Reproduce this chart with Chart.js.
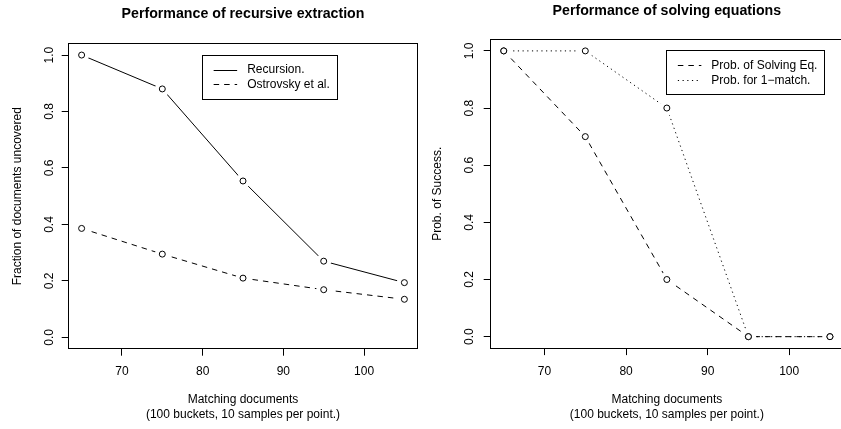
<!DOCTYPE html>
<html><head><meta charset="utf-8">
<script src="https://cdn.jsdelivr.net/npm/chart.js@4.4.1/dist/chart.umd.min.js"></script>
<style>
html,body{margin:0;padding:0;background:#fff;overflow:hidden;width:841px;height:429px;position:relative}
#p1{position:absolute;left:0;top:0}
#p2{position:absolute;left:420px;top:0}
</style></head><body>
<canvas id="p1" width="420" height="429"></canvas>
<canvas id="p2" width="430" height="429"></canvas>
<script>
// ---- data ----
const matching = [65, 75, 85, 95, 105];
const recursion = [1.0, 0.88, 0.554, 0.270, 0.194];
const ostrovsky = [0.386, 0.295, 0.210, 0.169, 0.135];
const solvingEq = [1.0, 0.7, 0.2, 0.0, 0.0];
const oneMatch = [1.0, 1.0, 0.8, 0.0, 0.0];
const xTicks = [70, 80, 90, 100];
const yTicks = [0.0, 0.2, 0.4, 0.6, 0.8, 1.0];
const xRange = [63.4, 106.6];
const yRange = [-0.04, 1.04];
const xTitle = ['Matching documents', '(100 buckets, 10 samples per point.)'];

const FONT = '"Liberation Sans", Arial, Helvetica, sans-serif';
Chart.defaults.font.family = FONT;
Chart.defaults.color = '#000';

function al(p){ return Math.round(p - 0.5) + 0.5; }

const rFrame = {
  id: 'rFrame',
  afterDatasetsDraw(chart) {
    const {ctx, chartArea: a} = chart;
    ctx.save();
    ctx.strokeStyle = '#000'; ctx.lineWidth = 1; ctx.setLineDash([]);
    const l = al(a.left), t = al(a.top), r = al(a.right), b = al(a.bottom);
    ctx.strokeRect(l, t, r - l, b - t);
    ctx.restore();
  }
};

const rLegend = {
  id: 'rLegend',
  afterDraw(chart, args, opts) {
    const {ctx} = chart;
    const xs = chart.scales.x, ys = chart.scales.y;
    const left = xs.getPixelForValue(opts.at[0]);
    const top = ys.getPixelForValue(opts.at[1]);
    ctx.save();
    ctx.font = '12px ' + FONT;
    const items = chart.data.datasets.filter(d => d.inLegend);
    const tw = Math.max(...items.map(d => ctx.measureText(d.label).width));
    const w = 44.5 + tw + 7.5, h = 44;
    const l = al(left), t = al(top), r = al(left + w), b = al(top + h);
    ctx.fillStyle = '#fff';
    ctx.fillRect(l, t, r - l, b - t);
    ctx.strokeStyle = '#000'; ctx.lineWidth = 1;
    ctx.strokeRect(l, t, r - l, b - t);
    items.forEach((d, i) => {
      const y = top + 15 + i * 14.8;
      ctx.setLineDash(d.borderDash || []);
      ctx.beginPath();
      ctx.moveTo(left + 11, al(y)); ctx.lineTo(left + 34.5, al(y));
      ctx.stroke();
      ctx.setLineDash([]);
      ctx.fillStyle = '#000';
      ctx.textBaseline = 'middle'; ctx.textAlign = 'left';
      ctx.fillText(d.label, left + 44.5, y);
    });
    ctx.restore();
  }
};

// R type="b": line, white gap around each point, open circle
function series(label, values, dash) {
  const pts = matching.map((x, i) => ({x, y: values[i]}));
  return [
    { label, inLegend: true, data: pts, order: 3,
      borderColor: '#000', borderWidth: 1, borderDash: dash,
      pointRadius: 0, pointHoverRadius: 0, fill: false, tension: 0 },
    { label: label + ' gap', data: pts, order: 2, showLine: false,
      pointStyle: 'circle', pointRadius: 7.5, pointHoverRadius: 7.5,
      pointBackgroundColor: '#fff', pointBorderWidth: 0, pointBorderColor: '#fff' },
    { label: label + ' pts', data: pts, order: 1, showLine: false,
      pointStyle: 'circle', pointRadius: 3, pointHoverRadius: 3,
      pointBackgroundColor: '#fff', pointBorderWidth: 1, pointBorderColor: '#000' }
  ];
}

function makeChart(id, cfg) {
  return new Chart(document.getElementById(id), {
    type: 'line',
    data: { datasets: cfg.datasets },
    options: {
      responsive: false, animation: false, events: [], devicePixelRatio: 1,
      layout: { autoPadding: false, padding: { left: 0, top: 0, right: cfg.padRight, bottom: 0 } },
      plugins: {
        legend: { display: false },
        tooltip: { enabled: false },
        title: {
          display: true, text: cfg.title, fullSize: false, color: '#000',
          font: { size: 14.2, weight: 'bold', lineHeight: 1.2 },
          padding: { top: cfg.titleTop, bottom: cfg.titleBottom }
        },
        rLegend: { at: cfg.legendAt }
      },
      scales: {
        x: {
          type: 'linear', min: xRange[0], max: xRange[1],
          afterBuildTicks: s => { s.ticks = xTicks.map(v => ({value: v})); },
          afterFit: s => { s.height = cfg.xAxisHeight; },
          grid: { drawOnChartArea: false, drawTicks: true, tickLength: 7, color: '#000', tickColor: '#000', lineWidth: 1 },
          border: { display: true, color: '#000', width: 1 },
          ticks: { color: '#000', font: { size: 12 }, padding: cfg.xTickPad, maxRotation: 0, minRotation: 0, autoSkip: false, callback: v => String(v) },
          title: { display: true, text: xTitle, color: '#000', font: { size: 12, lineHeight: 1.25 }, padding: { top: 0, bottom: 6.5 } }
        },
        y: {
          type: 'linear', min: yRange[0], max: yRange[1],
          afterBuildTicks: s => { s.ticks = yTicks.map(v => ({value: v})); },
          afterFit: s => { s.width = cfg.yAxisWidth; },
          grid: { drawOnChartArea: false, drawTicks: true, tickLength: 7, color: '#000', tickColor: '#000', lineWidth: 1 },
          border: { display: true, color: '#000', width: 1 },
          ticks: { color: '#000', font: { size: 12 }, padding: cfg.yTickPad, minRotation: 90, maxRotation: 90, crossAlign: 'center', autoSkip: false, callback: v => Number(v).toFixed(1) },
          title: { display: true, text: cfg.yTitle, color: '#000', font: { size: 12, lineHeight: 1.2 }, padding: { top: 10.8, bottom: 0 } }
        }
      }
    },
    plugins: [rFrame, rLegend]
  });
}

makeChart('p1', {
  title: 'Performance of recursive extraction',
  yTitle: 'Fraction of documents uncovered',
  datasets: [...series('Recursion.', recursion, []), ...series('Ostrovsky et al.', ostrovsky, [5.5, 5])],
  legendAt: [80, 1.0],
  padRight: 2.7, yAxisWidth: 68.7, xAxisHeight: 80.3,
  titleTop: 5.86, titleBottom: 20.86, xTickPad: 8.8, yTickPad: 3.65
});

makeChart('p2', {
  title: 'Performance of solving equations',
  yTitle: 'Prob. of Success.',
  datasets: [...series('Prob. of Solving Eq.', solvingEq, [5.5, 5]), ...series('Prob. for 1\u2212match.', oneMatch, [1.2, 3.5])],
  legendAt: [85, 1.0],
  padRight: 7, yAxisWidth: 70.7, xAxisHeight: 80.9,
  titleTop: 2.16, titleBottom: 20.26, xTickPad: 9.4, yTickPad: 6.15
});
</script>
</body></html>
